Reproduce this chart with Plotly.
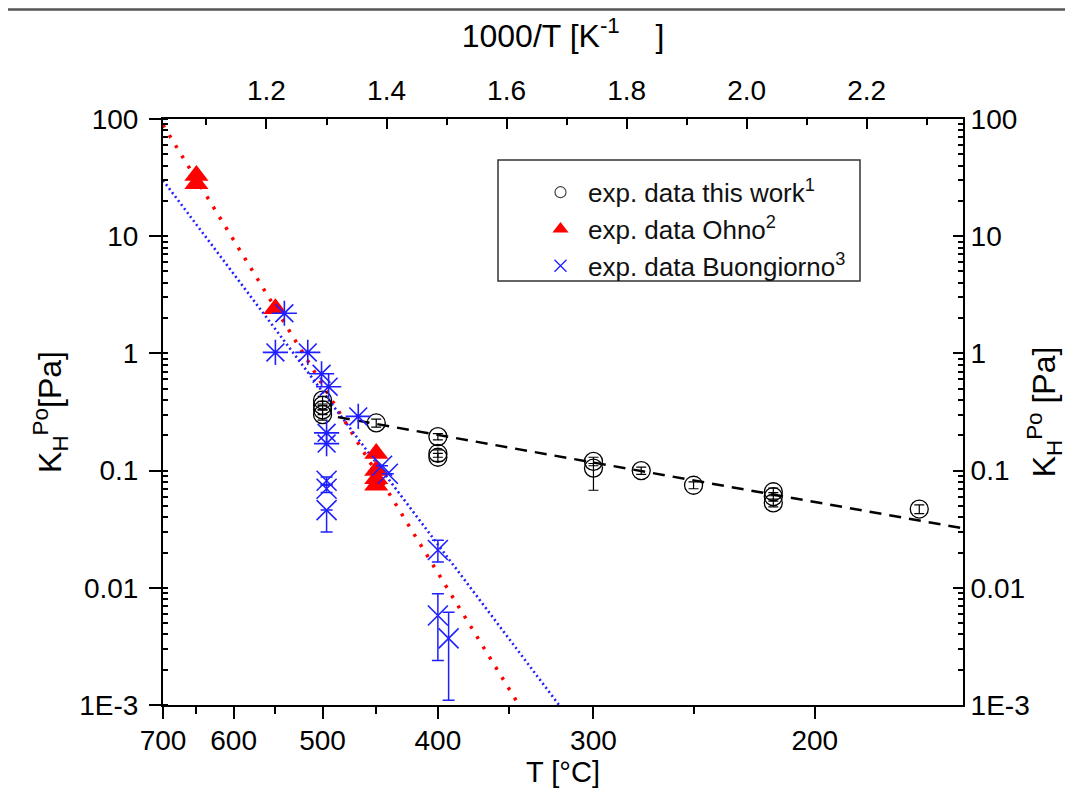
import plotly.graph_objects as go

# ---------------- data ----------------
# this work (black open circles)
tw_T = [500, 500, 500, 500, 450, 400, 400, 400, 300, 300, 275, 250, 216, 216, 216, 164]
tw_K = [0.40, 0.36, 0.33, 0.30, 0.255, 0.195, 0.14, 0.13, 0.12, 0.105, 0.100, 0.075, 0.066, 0.060, 0.053, 0.047]
tw_err_p = [0.03, 0.03, 0.03, 0.03, 0.02, 0.012, 0.01, 0.01, 0.01, 0.01, 0.007, 0.005, 0.005, 0.005, 0.004, 0.004]
tw_err_m = [0.03, 0.03, 0.03, 0.03, 0.02, 0.012, 0.01, 0.01, 0.01, 0.037, 0.007, 0.005, 0.005, 0.005, 0.004, 0.004]

# Ohno (red triangles)
oh_T = [650, 650, 550, 450, 450, 450, 450]
oh_K = [33, 28, 2.4, 0.14, 0.10, 0.085, 0.075]

# Buongiorno (blue crosses)
bu_a_T = [540, 550, 515, 501, 494, 466, 496, 496]
bu_a_K = [2.2, 1.02, 1.02, 0.67, 0.52, 0.29, 0.21, 0.17]
bu_x_T = [496, 496, 496, 445, 440, 400, 400, 392]
bu_x_K = [0.082, 0.070, 0.046, 0.11, 0.094, 0.021, 0.0058, 0.0037]
bu_x_ep = [0.006, 0.005, 0.0, 0.0, 0.0, 0.0044, 0.0031, 0.0025]
bu_x_em = [0.006, 0.005, 0.016, 0.0, 0.0, 0.0044, 0.0034, 0.0026]

# fitted lines (end points)
fit_tw_T = [485, 150.5]
fit_tw_K = [0.286, 0.0322]
fit_oh_T = [700, 343.9]
fit_oh_K = [89, 0.001]
fit_bu_T = [700, 319.5]
fit_bu_K = [30, 0.001]

# axis ticks
bottom_ticks = [700, 600, 500, 400, 300, 200]
bottom_minor = [650, 550, 450, 350, 250]
top_ticks = [1.2, 1.4, 1.6, 1.8, 2.0, 2.2]
top_minor = [1.1, 1.3, 1.5, 1.7, 1.9, 2.1, 2.3]
y_ticks = [1e-3, 1e-2, 1e-1, 1, 10, 100]
y_labels = ["1E-3", "0.01", "0.1", "1", "10", "100"]


def inv(T):
    return [1000.0 / (t + 273.15) for t in T]


BLUE = "#1f1fff"
RED = "#ff0000"
FONT = "Liberation Sans, Arial, sans-serif"

fig = go.Figure()

# fit lines
fig.add_trace(go.Scatter(x=inv(fit_oh_T), y=fit_oh_K, mode="lines",
                         line=dict(color=RED, width=3.5, dash="3px,9px"), showlegend=False))
fig.add_trace(go.Scatter(x=inv(fit_bu_T), y=fit_bu_K, mode="lines",
                         line=dict(color=BLUE, width=2.6, dash="2px,3px"), showlegend=False))
fig.add_trace(go.Scatter(x=inv(fit_tw_T), y=fit_tw_K, mode="lines",
                         line=dict(color="black", width=2.5, dash="12px,8px"), showlegend=False))

# data
fig.add_trace(go.Scatter(x=inv(tw_T), y=tw_K, mode="markers",
                         marker=dict(symbol="circle-open", size=18, color="black", line=dict(width=1.3)),
                         error_y=dict(type="data", array=tw_err_p, arrayminus=tw_err_m,
                                      color="black", thickness=1.2, width=5),
                         showlegend=False))
fig.add_trace(go.Scatter(x=inv(oh_T), y=oh_K, mode="markers",
                         marker=dict(symbol="triangle-up", size=21, color=RED),
                         showlegend=False))
fig.add_trace(go.Scatter(x=inv(bu_a_T), y=bu_a_K, mode="markers",
                         marker=dict(symbol="asterisk-open", size=21, color=BLUE,
                                     line=dict(width=1.6, color=BLUE)),
                         showlegend=False))
fig.add_trace(go.Scatter(x=inv(bu_x_T), y=bu_x_K, mode="markers",
                         marker=dict(symbol="x-thin-open", size=20, color=BLUE,
                                     line=dict(width=1.6, color=BLUE)),
                         error_y=dict(type="data", array=bu_x_ep, arrayminus=bu_x_em,
                                      color=BLUE, thickness=1.5, width=6),
                         showlegend=False))

# legend entries (small markers), placed on the top/right axes
fig.add_trace(go.Scatter(x=[None], y=[None], mode="markers", xaxis="x2", yaxis="y2",
                         name="exp. data this work<sup>1</sup>", legendgroup="a",
                         marker=dict(symbol="circle-open", size=11, color="#444",
                                     line=dict(width=1.2))))
fig.add_trace(go.Scatter(x=[None], y=[None], mode="markers", xaxis="x2", yaxis="y2",
                         name="exp. data Ohno<sup>2</sup>", legendgroup="b",
                         marker=dict(symbol="triangle-up", size=14, color=RED)))
fig.add_trace(go.Scatter(x=[None], y=[None], mode="markers", xaxis="x2", yaxis="y2",
                         name="exp. data Buongiorno<sup>3</sup>", legendgroup="c",
                         marker=dict(symbol="x-thin-open", size=12, color=BLUE,
                                     line=dict(width=1.3, color=BLUE))))

XR = [1.0276, 2.3604]
tickfont = dict(family=FONT, size=28, color="black")
titlefont = dict(family=FONT, size=29, color="black")
toptitlefont = dict(family=FONT, size=32, color="black")
ytitlefont = dict(family=FONT, size=32, color="black")

fig.update_layout(
    width=1065, height=790,
    paper_bgcolor="white", plot_bgcolor="white",
    margin=dict(l=155, r=110, t=111, b=93),
    font=dict(family=FONT, color="black"),
    xaxis=dict(range=XR, tickmode="array",
               tickvals=inv(bottom_ticks), ticktext=[str(t) for t in bottom_ticks],
               ticks="outside", ticklen=12, tickwidth=1.8, tickcolor="black",
               minor=dict(tickvals=inv(bottom_minor), ticks="outside", ticklen=7,
                          tickwidth=1.5, tickcolor="black"),
               showline=True, linewidth=2, linecolor="black", showgrid=False, zeroline=False,
               tickfont=tickfont, ticklabelstandoff=-3,
               title=dict(text="T [°C]", font=titlefont, standoff=4)),
    xaxis2=dict(range=XR, overlaying="x", side="top", anchor="y", tickmode="array",
                tickvals=top_ticks, ticktext=["%.1f" % v for v in top_ticks],
                ticks="inside", ticklen=10, tickwidth=1.8, tickcolor="black",
                minor=dict(tickvals=top_minor, ticks="inside", ticklen=6,
                           tickwidth=1.5, tickcolor="black"),
                showline=True, linewidth=2, linecolor="black", showgrid=False, zeroline=False,
                tickfont=tickfont, ticklabelstandoff=6,
                title=dict(text="1000/T [K<sup>-1</sup>    ]", font=toptitlefont, standoff=18)),
    yaxis=dict(type="log", range=[-3, 2], tickmode="array",
               tickvals=y_ticks, ticktext=y_labels,
               ticks="outside", ticklen=12, tickwidth=1.8, tickcolor="black",
               minor=dict(ticks="inside", ticklen=5, tickwidth=1.5, tickcolor="black", dtick="D1"),
               showline=True, linewidth=2, linecolor="black", showgrid=False, zeroline=False,
               tickfont=tickfont, ticklabelstandoff=5,
               title=dict(text="K<sub>H</sub><sup>Po</sup>[Pa]", font=ytitlefont, standoff=8)),
    yaxis2=dict(type="log", range=[-3, 2], overlaying="y", side="right", anchor="x",
                tickmode="array", tickvals=y_ticks, ticktext=y_labels,
                ticks="inside", ticklen=10, tickwidth=1.8, tickcolor="black",
                minor=dict(ticks="inside", ticklen=5, tickwidth=1.5, tickcolor="black", dtick="D1"),
                showline=True, linewidth=2, linecolor="black", showgrid=False, zeroline=False,
                tickfont=tickfont,
                title=dict(text="K<sub>H</sub><sup>Po</sup> [Pa]", font=ytitlefont, standoff=4)),
    legend=dict(x=0.4625, y=0.915, xanchor="left", yanchor="top",
                bgcolor="rgba(0,0,0,0)", borderwidth=0,
                font=dict(family=FONT, size=26, color="#111"),
                tracegroupgap=0, traceorder="grouped", itemwidth=45),
    shapes=[dict(type="line", xref="paper", yref="paper",
                 x0=-0.204, x1=1.1375, y0=1.187, y1=1.187,
                 line=dict(color="#555", width=2.5)),
            dict(type="rect", xref="paper", yref="paper",
                 x0=0.41875, x1=0.87125, y0=0.7235, y1=0.930,
                 line=dict(color="#333", width=1.5), fillcolor="rgba(0,0,0,0)", layer="above")],
)

fig.write_html("out.html")
